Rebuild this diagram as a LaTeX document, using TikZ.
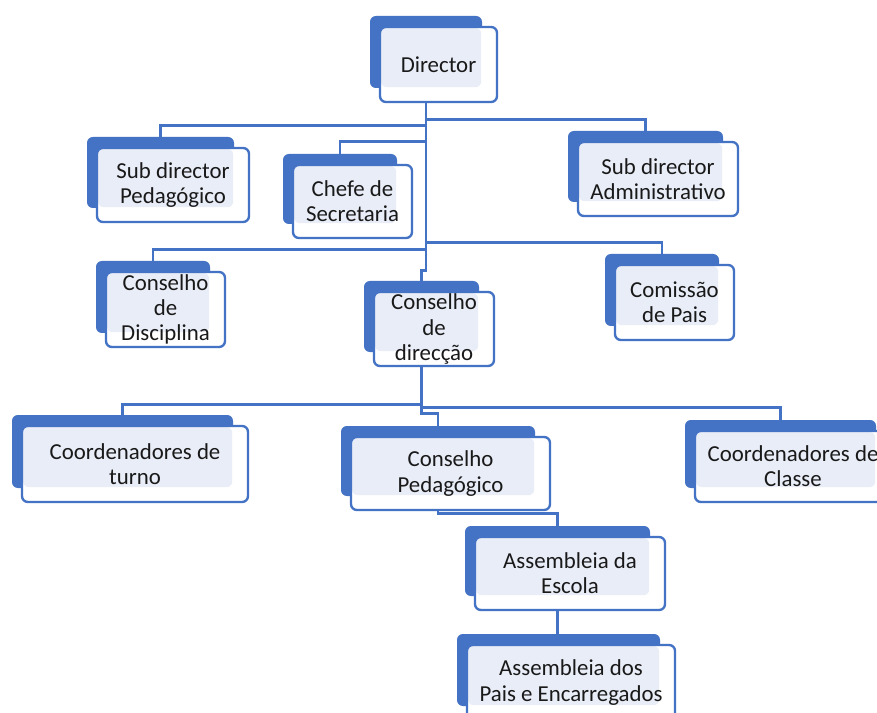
\documentclass[tikz,border=0pt]{standalone}
\usepackage{fontspec}
\setmainfont{Carlito}
\usetikzlibrary{calc,backgrounds}
\definecolor{orgblue}{HTML}{4472C4}
\definecolor{paleblue}{HTML}{E9EDF7}
\newcommand\pxu{0.03cm}
\pgfdeclarelayer{links}
\pgfsetlayers{background,links,main}
\tikzset{
  back/.style={fill=orgblue, rounded corners=5pt, inner sep=0pt},
  front/.style={draw=orgblue, line width=2pt, fill=white, rounded corners=5pt,
    inner sep=0pt, align=center, text=black!90,
    font=\fontsize{19.5pt}{21.5pt}\selectfont},
  link/.style={draw=orgblue, line width=2.2pt}
}
\begin{document}
\begin{tikzpicture}[x=\pxu, y=-\pxu, show background rectangle, inner frame sep=0pt,
  background rectangle/.style={fill=white}]
\useasboundingbox (0,0) rectangle (877,713);
\clip (0,0) rectangle (877,713);

\newcommand\orgunit[5]{%
\node[back, minimum width=#3*\pxu, minimum height=#4*\pxu] (#1) at (#2) {};%
\node[front, minimum width=#3*\pxu+5*\pxu, minimum height=#4*\pxu+3*\pxu,
  path picture={\fill[paleblue] ($(path picture bounding box.north west)+(1,1)$) rectangle ($(#1.south east)+(-1,-1)$);}]
  (#1f) at ($(#1)+(12.5,12.5)$) {#5};%
}
\orgunit{dir}{426,52}{112}{72}{Director}
\orgunit{sdp}{160.5,172.5}{147}{71}{Sub director\\Pedagógico}
\orgunit{chefe}{340,189}{114}{70}{Chefe de\\Secretaria}
\orgunit{sda}{645.5,166.5}{155}{71}{Sub director\\Administrativo}
\orgunit{cdisc}{153,297}{114}{72}{Conselho\\de\\Disciplina}
\orgunit{cdir}{421.5,316.5}{115}{71}{Conselho\\de\\direcção}
\orgunit{cpais}{662,290}{114}{72}{Comissão\\de Pais}
\orgunit{cturno}{122.5,451.5}{221}{73}{Coordenadores de\\turno}
\orgunit{cped}{438,461}{194}{70}{Conselho\\Pedagógico}
\orgunit{cclasse}{780.5,454}{191}{68}{Coordenadores de\\Classe}
\orgunit{aesc}{557.5,561}{185}{70}{Assembleia da\\Escola}
\orgunit{apais}{558.5,670}{203}{72}{Assembleia dos\\Pais e Encarregados}

% connectors
\begin{pgfonlayer}{links}
\draw[link] (dir.south) -- ++(0,31) -| (sda.north);
\draw[link] (dir.south) -- ++(0,37) -| (sdp.north);
\draw[link] (dir.south) -- ++(0,53) -| (chefe.north);
\draw[link] (dir.south) -- ++(0,154) -| (cpais.north);
\draw[link] (dir.south) -- ++(0,161) -| (cdisc.north);
\draw[link] (dir.south) -- ++(0,182) -| (cdir.north);
\draw[link] (cdir.south) -- ++(0,52) -| (cturno.north);
\draw[link] (cdir.south) -- ++(0,55) -| (cclasse.north);
\draw[link] (cdir.south) -- ++(0,61) -| (cped.north);
\draw[link] (cped.south) -- ++(0,17) -| (aesc.north);
\draw[link] (aesc.south) -- (aesc.south |- apais.north);
\end{pgfonlayer}
\end{tikzpicture}
\end{document}
